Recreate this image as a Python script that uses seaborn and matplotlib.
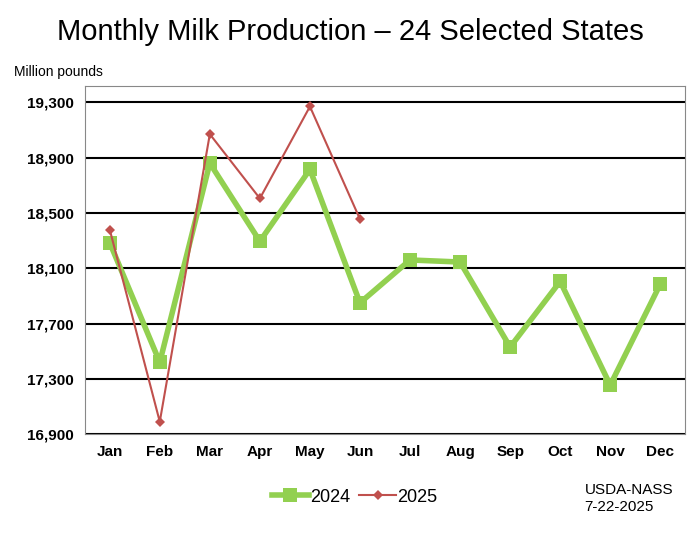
import matplotlib
matplotlib.use("Agg")
import matplotlib.pyplot as plt
import seaborn as sns
import pandas as pd

plt.rcParams["font.family"] = "Liberation Sans"

months = ["Jan", "Feb", "Mar", "Apr", "May", "Jun", "Jul", "Aug", "Sep", "Oct", "Nov", "Dec"]
prod_2024 = [18285, 17420, 18860, 18295, 18815, 17850, 18160, 18145, 17530, 18005, 17255, 17985]
prod_2025 = [18380, 16990, 19070, 18605, 19270, 18455]

df = pd.concat([
    pd.DataFrame({"month": months, "x": range(12), "value": prod_2024, "year": "2024"}),
    pd.DataFrame({"month": months[:6], "x": range(6), "value": prod_2025, "year": "2025"}),
])

fig = plt.figure(figsize=(7, 5.36), dpi=100)
ax = fig.add_axes([0.121, 0.19, 0.858, 0.65])

sns.lineplot(data=df, x="x", y="value", hue="year", style="year",
             palette={"2024": "#92d050", "2025": "#c0504d"},
             markers={"2024": "s", "2025": "D"}, dashes=False,
             markeredgewidth=0, ax=ax, legend=False)
lines = ax.get_lines()
lines[0].set_linewidth(4); lines[0].set_markersize(10); lines[0].set_label("2024")
lines[1].set_linewidth(1.5); lines[1].set_markersize(5.5); lines[1].set_label("2025")

ax.set_xlim(-0.5, 11.5)
ax.set_ylim(16900, 19420)
ax.set_yticks(range(16900, 19301, 400))
ax.set_yticklabels([f"{v:,}" for v in range(16900, 19301, 400)], fontsize=11, fontweight="bold")
ax.set_xticks(range(12))
ax.set_xticklabels(months, fontsize=11, fontweight="bold")
ax.tick_params(length=0, pad=8)
ax.grid(axis="y", color="black", linewidth=1.5)
for s in ax.spines.values():
    s.set_color("#888888")
ax.set_xlabel("")
ax.set_ylabel("")

ax.legend(lines[:2], ["2024", "2025"], loc="upper center", bbox_to_anchor=(0.45, -0.11), ncol=2,
          frameon=False, fontsize=13, handlelength=2, columnspacing=0.5, handletextpad=0.1)

fig.text(0.5, 0.94, "Monthly Milk Production \u2013 24 Selected States", ha="center", va="center", fontsize=21)
fig.text(0.02, 0.858, "Million pounds", fontsize=10)
fig.text(0.835, 0.07, "USDA-NASS\n7-22-2025", fontsize=11, va="center")

fig.savefig("out.png", dpi=100)
